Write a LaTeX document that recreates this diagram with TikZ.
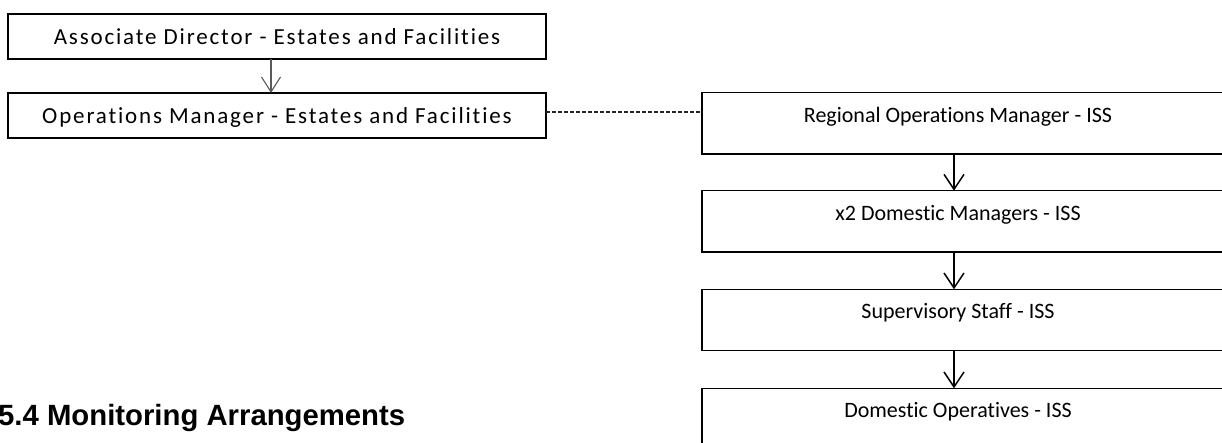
\documentclass[tikz,border=0pt]{standalone}
\usepackage{fontspec}
\setmainfont{Carlito}[Ligatures=NoCommon]
\newfontfamily\spacedfont[LetterSpace=8, Ligatures=NoCommon]{Carlito}
\newfontfamily\titlefont{Liberation Sans}
\usetikzlibrary{arrows.meta}
\begin{document}
\begin{tikzpicture}[x=1pt,y=-1pt,
  leftbox/.style={draw, line width=1.5pt, minimum width=538pt, inner sep=0pt, outer sep=0pt,
    anchor=north west, font=\spacedfont\fontsize{23}{25}\selectfont,
    text height=30pt, text depth=15pt},
  rightbox/.style={draw, line width=1.5pt, minimum width=522pt, inner sep=0pt, outer sep=0pt,
    anchor=north west, font=\fontsize{22}{24}\selectfont,
    text height=29.5pt, text depth=31.8pt},
  conn/.style={line width=1.5pt, -{Straight Barb[length=15pt, width=20pt, line width=1.5pt]}},
  grayconn/.style={line width=1.1pt, draw=black!65, -{Straight Barb[length=15pt, width=19pt, line width=1.1pt]}},
  dashconn/.style={line width=2.4pt, draw=black!85, dash pattern=on 4pt off 2pt}
]
\useasboundingbox (0,0) rectangle (1222,442);

\node[leftbox] (A) at (8,14) {Associate Director - Estates and Facilities};
\node[leftbox] (B) at (8,93) {Operations Manager - Estates and Facilities};

\node[rightbox] (C) at (702,92.7) {\kern-10pt Regional Operations Manager - ISS};
\node[rightbox] (D) at (702,190.7) {\kern-10pt x2 Domestic Managers - ISS};
\node[rightbox] (E) at (702,289.3) {\kern-10pt Supervisory Staff - ISS};
\node[rightbox] (F) at (702,388.3) {\kern-10pt Domestic Operatives - ISS};

\node[anchor=base west, inner sep=0pt, font=\titlefont\bfseries\fontsize{29.3}{30}\selectfont]
  (title) at (-2,425) {5.4 Monitoring Arrangements};

\draw[grayconn] ([xshift=-6pt]A.south) -- ([xshift=-6pt]B.north);
\draw[dashconn] ([yshift=3.5pt]B.east) -- ([yshift=3.5pt]B.east -| C.west);
\draw[conn] ([xshift=-9pt]C.south) -- ([xshift=-9pt]D.north);
\draw[conn] ([xshift=-9pt]D.south) -- ([xshift=-9pt]E.north);
\draw[conn] ([xshift=-9pt]E.south) -- ([xshift=-9pt]F.north);
\end{tikzpicture}
\end{document}
